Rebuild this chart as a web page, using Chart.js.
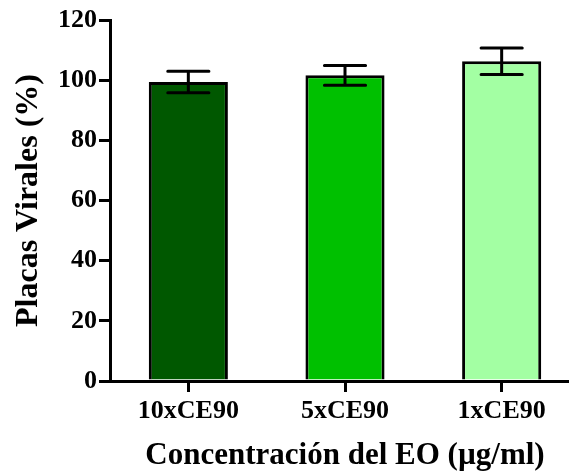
<!DOCTYPE html>
<html>
<head>
<meta charset="utf-8">
<script src="https://cdn.jsdelivr.net/npm/chart.js@4"></script>
<style>
    html, body { margin: 0; padding: 0; background: #fff; overflow: hidden; }
    #wrap { width: 580px; height: 472px; }
</style>
</head>
<body>
<div id="wrap"><canvas id="placasChart"></canvas></div>
<script>
const categories = ["10xCE90", "5xCE90", "1xCE90"];
const means = [99.4, 101.6, 106.3];
const errors = [3.6, 3.3, 4.4];
const barColors = ["#005800", "#00c000", "#a3ffa3"];
const yTicks = [0, 20, 40, 60, 80, 100, 120];

const serif = "'Liberation Serif', 'Times New Roman', serif";

// whiskers (mean +/- error) drawn on top of the bars
const errorBars = {
    id: "errorBars",
    afterDatasetsDraw(chart) {
        const ctx = chart.ctx;
        const y = chart.scales.y;
        const meta = chart.getDatasetMeta(0);
        ctx.save();
        ctx.strokeStyle = "#000";
        ctx.lineWidth = 3;
        ctx.lineCap = "round";
        meta.data.forEach((bar, i) => {
            const top = y.getPixelForValue(means[i] + errors[i]);
            const bottom = y.getPixelForValue(means[i] - errors[i]);
            const half = bar.width * 0.26;
            ctx.beginPath();
            ctx.moveTo(bar.x, top);
            ctx.lineTo(bar.x, bottom);
            ctx.moveTo(bar.x - half, top);
            ctx.lineTo(bar.x + half, top);
            ctx.moveTo(bar.x - half, bottom);
            ctx.lineTo(bar.x + half, bottom);
            ctx.stroke();
        });
        ctx.restore();
    }
};

new Chart("placasChart", {
    type: "bar",
    data: {
        labels: categories,
        datasets: [
            {
                data: means,
                backgroundColor: barColors,
                borderColor: "#000",
                borderWidth: 3,
                categoryPercentage: 1,
                barPercentage: 0.505
            }
        ]
    },
    options: {
        responsive: true,
        maintainAspectRatio: false,
        animation: false,
        devicePixelRatio: 1,
        layout: { padding: { top: 20, left: 0, right: 0, bottom: 0 } },
        plugins: {
            legend: { display: false },
            tooltip: { enabled: false }
        },
        scales: {
            x: {
                afterFit: s => { s.height = 91; },
                grid: {
                    offset: false,
                    drawOnChartArea: false,
                    drawTicks: true,
                    tickLength: 11,
                    color: "#000",
                    lineWidth: 3
                },
                border: { color: "#000", width: 3 },
                ticks: {
                    color: "#000",
                    padding: 4,
                    font: { family: serif, size: 26, weight: "bold" }
                },
                title: {
                    display: true,
                    text: "Concentración del EO (µg/ml)",
                    color: "#000",
                    padding: { top: 0, bottom: -3 },
                    font: { family: serif, size: 31, weight: "bold" }
                }
            },
            y: {
                min: 0,
                max: 120,
                afterFit: s => { s.width = 110; },
                afterBuildTicks: s => { s.ticks = yTicks.map(v => ({ value: v })); },
                grid: {
                    drawOnChartArea: false,
                    drawTicks: true,
                    tickLength: 11,
                    color: "#000",
                    lineWidth: 3
                },
                border: { color: "#000", width: 3 },
                ticks: {
                    color: "#000",
                    padding: 2,
                    font: { family: serif, size: 26, weight: "bold" }
                },
                title: {
                    display: true,
                    text: "Placas Virales (%)",
                    color: "#000",
                    padding: { top: 10, bottom: 0 },
                    font: { family: serif, size: 32, weight: "bold" }
                }
            }
        }
    },
    plugins: [errorBars]
});
</script>
</body>
</html>
